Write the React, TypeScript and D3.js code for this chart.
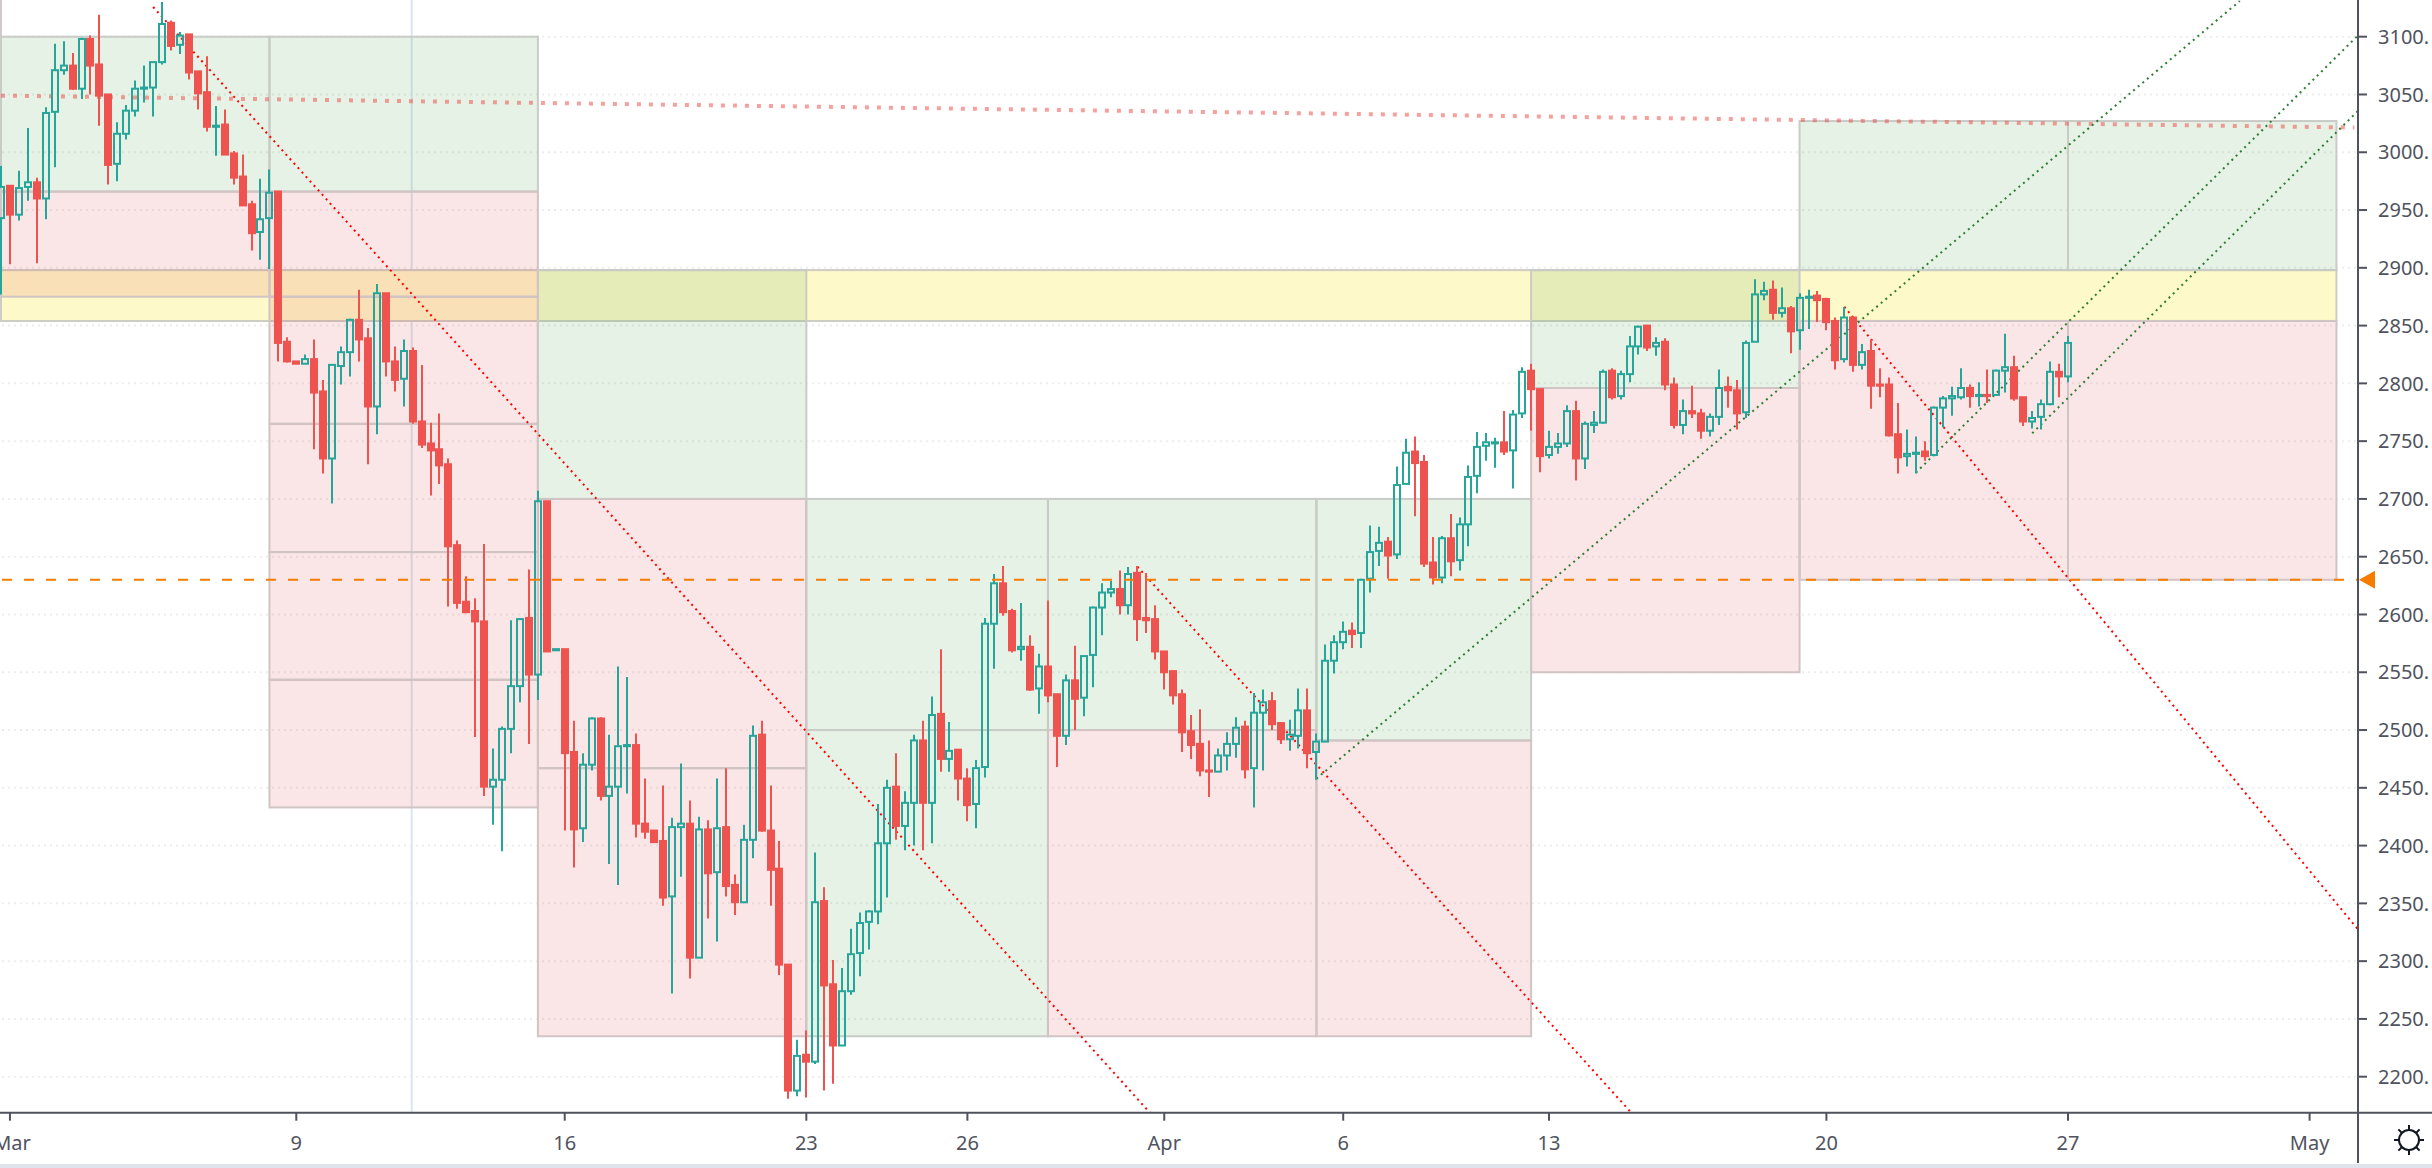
import React from 'react';
import * as d3 from 'd3';

const opens = [
2943,2971,2946,2970,2974,2960,3035,3071,3075,3055,
3098,3076,3050,2990,3016,3036,3055,3056,3078,3112,
3093,3102,3070,3052,3022,3024,2999,2979,2955,2931,
2943,2966,2836,2819,2817,2821,2793,2735,2815,2827,
2855,2839,2780,2878,2819,2804,2828,2767,2748,2743,
2730,2660,2611,2603,2594,2451,2457,2501,2538,2597,
2548,2698,2569,2570,2481,2415,2470,2510,2443,2451,
2486,2487,2419,2413,2404,2356,2416,2419,2303,2414,
2377,2416,2366,2351,2405,2496,2413,2380,2297,2188,
2219,2213,2352,2280,2227,2274,2307,2334,2343,2402,
2451,2417,2437,2491,2437,2514,2475,2483,2458,2436,
2468,2592,2627,2603,2570,2572,2536,2555,2531,2495,
2543,2528,2565,2606,2619,2622,2608,2636,2597,2596,
2568,2551,2531,2499,2488,2465,2464,2478,2488,2503,
2467,2515,2525,2506,2492,2495,2517,2481,2490,2560,
2576,2586,2584,2631,2655,2663,2652,2713,2741,2732,
2645,2632,2666,2647,2678,2720,2746,2748,2749,2742,
2774,2811,2795,2738,2745,2748,2776,2735,2764,2766,
2811,2789,2808,2832,2850,2832,2836,2799,2764,2776,
2774,2759,2771,2797,2794,2775,2836,2877,2881,2861,
2865,2846,2874,2876,2873,2854,2821,2857,2816,2828,
2799,2799,2756,2737,2739,2741,2738,2779,2787,2788,
2796,2789,2790,2790,2811,2814,2788,2767,2771,2782,2810,2806];
const closes = [
2970,2946,2969,2974,2960,3034,3071,3075,3055,3098,
3075,3049,2989,3016,3036,3055,3056,3078,3111,3092,
3101,3069,3051,3022,3023,2998,2978,2954,2930,2942,
2965,2835,2819,2817,2821,2792,2735,2816,2827,2855,
2838,2780,2878,2819,2803,2828,2767,2747,2742,2729,
2659,2610,2602,2594,2451,2457,2501,2538,2596,2548,
2698,2568,2570,2480,2414,2470,2510,2443,2451,2486,
2487,2419,2412,2403,2355,2416,2419,2303,2414,2376,
2415,2365,2351,2405,2495,2413,2379,2297,2188,2218,
2213,2351,2279,2227,2274,2306,2333,2343,2402,2450,
2417,2437,2491,2437,2513,2475,2482,2458,2435,2467,
2592,2627,2602,2569,2572,2535,2555,2530,2495,2543,
2527,2564,2606,2619,2622,2608,2635,2596,2595,2568,
2550,2530,2498,2487,2465,2464,2478,2488,2502,2466,
2515,2524,2505,2492,2496,2517,2480,2490,2560,2576,
2585,2583,2630,2654,2662,2651,2712,2740,2731,2644,
2632,2666,2646,2678,2719,2745,2749,2749,2741,2773,
2810,2795,2737,2745,2748,2776,2735,2765,2766,2810,
2788,2808,2832,2849,2831,2835,2799,2764,2776,2774,
2759,2771,2796,2794,2774,2835,2877,2880,2861,2865,
2845,2874,2875,2872,2853,2820,2857,2816,2827,2798,
2798,2755,2736,2739,2740,2737,2779,2787,2789,2796,
2789,2790,2789,2811,2814,2787,2767,2770,2782,2810,2806,2835];
const highs = [
2988,2971,2984,3021,2978,3039,3094,3096,3086,3099,
3101,3119,3050,3026,3041,3062,3075,3078,3130,3114,
3104,3102,3070,3083,3040,3037,3001,2998,2958,2977,
2985,2966,2840,2819,2825,2838,2803,2816,2832,2856,
2881,2848,2886,2878,2832,2838,2831,2816,2766,2774,
2735,2664,2633,2614,2661,2484,2503,2595,2597,2639,
2707,2698,2570,2570,2508,2480,2511,2511,2496,2555,
2546,2497,2458,2413,2452,2424,2471,2439,2425,2422,
2458,2467,2375,2418,2504,2508,2452,2404,2297,2232,
2240,2394,2364,2301,2294,2328,2342,2344,2436,2457,
2480,2447,2496,2508,2529,2570,2507,2483,2467,2474,
2597,2635,2642,2605,2610,2582,2566,2612,2531,2548,
2573,2564,2607,2627,2629,2638,2641,2642,2636,2608,
2568,2551,2535,2513,2518,2491,2484,2498,2511,2508,
2532,2535,2533,2507,2509,2536,2536,2497,2574,2582,
2594,2593,2631,2677,2676,2667,2728,2752,2754,2738,
2667,2668,2687,2684,2729,2758,2757,2753,2776,2777,
2814,2817,2795,2759,2757,2781,2785,2767,2776,2812,
2813,2811,2841,2850,2850,2840,2839,2805,2786,2798,
2778,2774,2812,2806,2803,2837,2890,2888,2889,2883,
2867,2878,2881,2880,2874,2857,2866,2858,2834,2838,
2813,2805,2783,2760,2754,2750,2780,2789,2797,2813,
2799,2801,2812,2812,2843,2824,2788,2776,2786,2819,2817,2841];
const lows = [
2877,2903,2941,2958,2904,2942,2987,3067,3054,3046,
3050,3023,2972,2975,3011,3031,3043,3031,3076,3088,
3085,3063,3037,3018,2997,2998,2972,2954,2915,2907,
2899,2819,2818,2817,2817,2743,2722,2696,2799,2806,
2819,2730,2756,2806,2793,2780,2765,2744,2703,2713,
2607,2605,2601,2494,2443,2418,2395,2480,2524,2488,
2526,2568,2569,2413,2381,2403,2465,2439,2384,2366,
2445,2407,2406,2403,2348,2272,2373,2285,2303,2337,
2317,2356,2340,2350,2389,2412,2348,2288,2181,2183,
2182,2211,2188,2194,2227,2271,2287,2310,2332,2355,
2405,2396,2400,2396,2402,2464,2464,2439,2421,2415,
2459,2553,2599,2567,2560,2534,2514,2524,2468,2487,
2500,2512,2537,2582,2615,2600,2600,2577,2584,2561,
2535,2522,2481,2475,2460,2442,2464,2465,2476,2458,
2433,2465,2500,2488,2482,2484,2467,2457,2490,2549,
2570,2571,2571,2619,2642,2631,2648,2713,2685,2641,
2626,2627,2633,2638,2659,2705,2733,2727,2738,2709,
2770,2759,2723,2735,2739,2745,2716,2726,2757,2765,
2786,2786,2801,2825,2828,2824,2794,2761,2756,2770,
2752,2754,2764,2779,2760,2770,2836,2872,2855,2857,
2826,2829,2847,2853,2846,2812,2818,2810,2812,2778,
2788,2754,2722,2728,2722,2733,2737,2762,2772,2786,
2779,2780,2783,2789,2792,2785,2763,2761,2760,2781,2788,2801];

const priceTicks = d3.range(2200, 3101, 50);
const timeTickIdx = [1, 33, 63, 90, 108, 130, 150, 173, 204, 231, 258];
const timeTickLabels = ['Mar', '9', '16', '23', '26', 'Apr', '6', '13', '20', '27', 'May'];

// zones: start index, end index, upper price, lower price
const greenZones = [
  [0, 30, 3100, 2966], [30, 60, 3100, 2966], [60, 90, 2898, 2700],
  [90, 117, 2700, 2500], [90, 117, 2500, 2235], [117, 147, 2700, 2500],
  [147, 171, 2700, 2491], [171, 201, 2898, 2796], [201, 231, 3027, 2898], [231, 261, 3027, 2898],
];
const redZones = [
  [0, 30, 2966, 2875], [30, 60, 2966, 2875], [30, 60, 2875, 2765], [30, 60, 2765, 2654],
  [30, 60, 2654, 2543.5], [30, 60, 2543.5, 2433], [60, 90, 2700, 2467], [60, 90, 2467, 2235],
  [117, 147, 2500, 2235], [147, 171, 2491, 2235], [171, 201, 2796, 2550],
  [201, 231, 2854, 2630], [231, 261, 2854, 2630],
];
const yellowZone = [0, 261, 2898, 2854];

// lines: start index, start price, end index, end price
const redTrends = [
  [17, 3125.7, 128.4, 2168.8],
  [127, 2641.3, 182.2, 2168.8],
  [206, 2866.3, 263.4, 2327.5],
];
const greenTrends = [
  [147, 2457.9, 250.2, 3130.9],
  [214, 2722.7, 263.4, 3101],
  [227, 2756.8, 263.4, 3035.7],
];
const salmonTrend = [0, 3049, 263, 3021.4];
const supportLevel = 2630;
const cursorIdx = 45.9;

const W = 2432, H = 1168, AX = 2358, AY = 1112.7;
const FONT = '"Noto Sans", sans-serif';
const TEAL = '#26a69a', RED = '#ef5350', AXIS = '#50535e';

const x = d3.scaleLinear().domain([0, 231]).range([1, 2068]);
const y = d3.scaleLinear().domain([2200, 3100]).range([1076.7, 36.7]);

function Zone({ z, fill, stroke }: { z: number[]; fill: string; stroke: string }) {
  return <rect x={x(z[0])} y={y(z[2])} width={x(z[1]) - x(z[0])} height={y(z[3]) - y(z[2])} fill={fill} stroke={stroke} strokeWidth={2} />;
}

function Trend({ t, color, width, dash, opacity }: { t: number[]; color: string; width: number; dash: string; opacity?: number }) {
  const path = d3.line()([[x(t[0]), y(t[1])], [x(t[2]), y(t[3])]]) as string;
  return <path d={path} fill="none" stroke={color} strokeWidth={width} strokeDasharray={dash} opacity={opacity ?? 1} />;
}

function Candle({ i }: { i: number }) {
  const up = closes[i] >= opens[i];
  const cx = Math.round(x(i));
  const top = y(Math.max(opens[i], closes[i]));
  const bot = y(Math.min(opens[i], closes[i]));
  const color = up ? TEAL : RED;
  return (
    <g>
      <line x1={cx} x2={cx} y1={y(highs[i])} y2={top} stroke={color} strokeWidth={2} />
      <line x1={cx} x2={cx} y1={bot} y2={y(lows[i])} stroke={color} strokeWidth={2} />
      {up
        ? <rect x={cx - 3} y={top} width={6} height={Math.max(bot - top, 0.5)} fill="none" stroke={color} strokeWidth={2} />
        : <rect x={cx - 4} y={top - 1} width={8} height={Math.max(bot - top + 2, 2)} fill={color} />}
    </g>
  );
}

export default function App() {
  const sunRays = d3.range(8).map(k => (k * Math.PI) / 4);
  const sx = 2409, sy = 1140;
  return (
    <svg width={W} height={H} viewBox={`0 0 ${W} ${H}`} style={{ position: 'fixed', left: 0, top: 0, display: 'block', background: '#fff' }}>
      <defs>
        <clipPath id="plot"><rect x={0} y={0} width={AX} height={AY} /></clipPath>
      </defs>
      <g clipPath="url(#plot)">
        {priceTicks.map(p => (
          <line key={p} x1={2} x2={AX} y1={y(p)} y2={y(p)} stroke="#000" strokeOpacity={0.07} strokeWidth={2} strokeDasharray="2 4" />
        ))}
        <line x1={x(cursorIdx)} x2={x(cursorIdx)} y1={0} y2={AY} stroke="#dbe6f2" strokeWidth={2} />
        <line x1={1} x2={1} y1={0} y2={y(3100)} stroke="#cfc9cc" strokeWidth={2} />
        <Zone z={yellowZone} fill="rgb(254,249,201)" stroke="#cdcdc4" />
        {greenZones.map((z, k) => <Zone key={k} z={z} fill="rgba(60,150,60,0.12)" stroke="#c8cbc6" />)}
        {redZones.map((z, k) => <Zone key={k} z={z} fill="rgba(210,50,50,0.12)" stroke="#d0c4c4" />)}
        <Trend t={salmonTrend} color={RED} width={4} dash="4 8" opacity={0.55} />
        {redTrends.map((t, k) => <Trend key={k} t={t} color="#ff0000" width={2} dash="2 4" />)}
        {greenTrends.map((t, k) => <Trend key={k} t={t} color="#2e7d32" width={2} dash="2 4" />)}
        {opens.map((_, i) => <Candle key={i} i={i} />)}
        <line x1={2} x2={AX} y1={y(supportLevel)} y2={y(supportLevel)} stroke="#f57c00" strokeWidth={2} strokeDasharray="10 12" />
      </g>
      <line x1={0} x2={W} y1={AY} y2={AY} stroke={AXIS} strokeWidth={2} />
      <line x1={AX} x2={AX} y1={0} y2={1163} stroke={AXIS} strokeWidth={2} />
      {priceTicks.map(p => (
        <g key={p}>
          <line x1={AX} x2={AX + 9} y1={y(p)} y2={y(p)} stroke={AXIS} strokeWidth={2} />
          <text x={2378} y={y(p)} dy="0.36em" fontFamily={FONT} fontSize={20} fill={AXIS}>{`${p}.`}</text>
        </g>
      ))}
      {timeTickIdx.map((t, k) => (
        <g key={t}>
          <line x1={x(t)} x2={x(t)} y1={AY} y2={AY + 8} stroke={AXIS} strokeWidth={2} />
          <text x={Math.max(x(t), 12)} y={1143} dy="0.36em" textAnchor="middle" fontFamily={FONT} fontSize={20} fill={AXIS}>{timeTickLabels[k]}</text>
        </g>
      ))}
      <path d={`M${AX + 1},${y(supportLevel)} l16,-9 v18 z`} fill="#f57c00" />
      <g stroke="#131722" strokeWidth={2} fill="none">
        <circle cx={sx} cy={sy} r={10} />
        {sunRays.map((a, k) => (
          <line key={k} x1={sx + 10 * Math.cos(a)} y1={sy + 10 * Math.sin(a)} x2={sx + 15 * Math.cos(a)} y2={sy + 15 * Math.sin(a)} />
        ))}
      </g>
      <rect x={0} y={1164} width={W} height={4} fill="#e0e3eb" />
    </svg>
  );
}
